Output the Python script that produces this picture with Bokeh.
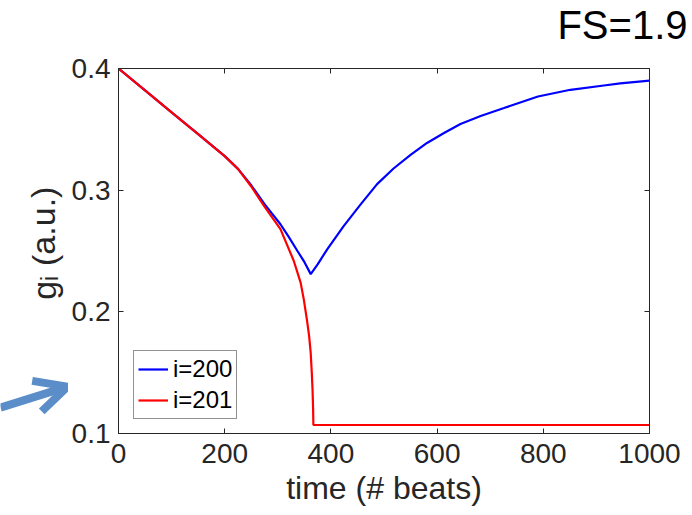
from bokeh.plotting import figure
from bokeh.layouts import row
from bokeh.models import (LinearAxis, Range1d, Arrow, OpenHead, Legend,
                          LegendItem, FixedTicker, CustomJSTickFormatter)
from bokeh.core.properties import value
from bokeh.embed import file_html
from bokeh.resources import INLINE

# ---- data ----
beats_200 = [0, 50, 100, 150, 200, 225, 250, 275, 305, 320, 337, 350, 362, 375,
             393, 424, 456, 487, 518, 550, 581, 613, 644, 682, 726, 790, 851,
             914, 945, 1000]
g_200 = [0.400, 0.382, 0.364, 0.346, 0.328, 0.3175, 0.304, 0.2885, 0.272, 0.262,
         0.250, 0.241, 0.231, 0.239, 0.2514, 0.2705, 0.2883, 0.305, 0.3178,
         0.329, 0.3388, 0.347, 0.3544, 0.361, 0.3675, 0.377, 0.3825, 0.386,
         0.3877, 0.390]

beats_201 = [0, 50, 100, 150, 200, 225, 250, 275, 305, 330, 343, 349, 355, 359,
             362, 364, 365.5, 366.5, 367, 1000]
g_201 = [0.400, 0.382, 0.364, 0.346, 0.328, 0.3175, 0.303, 0.2865, 0.268, 0.242,
         0.224, 0.210, 0.193, 0.180, 0.166, 0.150, 0.135, 0.120, 0.107, 0.107]

x_ticks = [0, 200, 400, 600, 800, 1000]
y_ticks = [0.1, 0.2, 0.3, 0.4]
series_labels = ["i=200", "i=201"]
title_text = "FS=1.9"
x_label = "time (# beats)"
y_label_parts = ["g", "i", "(a.u.)"]

AX = "#262626"
FONT = "Liberation Sans"
H = 515

# ---------- left strip: y-axis label and the pointing arrow ----------
# its frame is aligned by the row with the main frame (page y 67..433),
# so data y = H - page y
left = figure(width=68, height=H, output_backend="svg", toolbar_location=None,
              x_range=Range1d(0, 68), y_range=Range1d(H - 433, H - 67),
              min_border=0, x_axis_location=None, y_axis_location=None)
left.grid.visible = False
left.outline_line_color = None
txt_kw = dict(angle=1.5708, text_font=value(FONT), text_color=AX,
              text_align="left", text_baseline="alphabetic")
left.text(x=[43], y=[H - 299], text=[y_label_parts[0]],
          text_font_size=value("34px"), **txt_kw)
left.text(x=[49], y=[H - 280], text=[y_label_parts[1]],
          text_font_size=value("23px"), **txt_kw)
left.text(x=[43], y=[H - 265], text=[y_label_parts[2]],
          text_font_size=value("34px"), **txt_kw)
left.add_layout(Arrow(x_start=0, y_start=H - 407, x_end=67, y_end=H - 386,
                      line_color="#5b8ec8", line_width=8,
                      end=OpenHead(size=32, line_color="#5b8ec8", line_width=8)))

# ---------- main chart ----------
p = figure(width=624, height=H, output_backend="svg", toolbar_location=None,
           x_range=Range1d(0, 1000), y_range=Range1d(0.1, 0.4),
           min_border_left=50, min_border_right=43, min_border_top=67,
           min_border_bottom=82, x_axis_location=None, y_axis_location=None)
p.grid.visible = False
p.outline_line_color = AX
p.outline_line_width = 1

p.title.text = title_text
p.title.align = "right"
p.title.vertical_align = "top"
p.title.offset = -38
p.title.text_font = FONT
p.title.text_font_size = "40px"
p.title.text_font_style = "normal"
p.title.text_color = "black"
p.title.standoff = 4

def style_axis(ax, labels=True):
    ax.axis_line_color = AX
    ax.major_tick_line_color = AX
    ax.major_tick_in = 5
    ax.major_tick_out = 0
    ax.minor_tick_line_color = None
    ax.major_label_text_font = FONT
    ax.major_label_text_color = AX
    ax.major_label_text_font_size = "28px"
    ax.axis_label_text_font = FONT
    ax.axis_label_text_color = AX
    ax.axis_label_text_font_style = "normal"
    if not labels:
        ax.formatter = CustomJSTickFormatter(code="return ''")
        ax.major_label_standoff = 0

xb = LinearAxis(ticker=FixedTicker(ticks=x_ticks), axis_label=x_label)
style_axis(xb)
xb.major_label_standoff = 10
xb.axis_label_text_font_size = "32px"
xb.axis_label_standoff = 4
p.add_layout(xb, "below")

yl = LinearAxis(ticker=FixedTicker(ticks=y_ticks))
style_axis(yl)
yl.major_label_standoff = 8
p.add_layout(yl, "left")

xt = LinearAxis(ticker=FixedTicker(ticks=x_ticks))
style_axis(xt, labels=False)
p.add_layout(xt, "above")

# invisible spacer axis that lifts the title away from the frame
xs = LinearAxis(ticker=FixedTicker(ticks=x_ticks))
style_axis(xs, labels=False)
xs.axis_line_color = None
xs.major_tick_line_color = None
xs.major_tick_in = 0
xs.major_tick_out = 18
p.add_layout(xs, "above")

yr = LinearAxis(ticker=FixedTicker(ticks=y_ticks))
style_axis(yr, labels=False)
p.add_layout(yr, "right")

r1 = p.line(beats_200, g_200, line_color="#0000ff", line_width=2.2)
r2 = p.line(beats_201, g_201, line_color="#ff0000", line_width=2.2)

legend = Legend(items=[LegendItem(label=series_labels[0], renderers=[r1]),
                       LegendItem(label=series_labels[1], renderers=[r2])],
                location=(15, 14), margin=0, padding=4, spacing=3,
                glyph_width=30, glyph_height=28, label_height=28,
                label_standoff=5, label_text_font=FONT,
                label_text_font_size="24px", label_text_color="black",
                border_line_color=AX, border_line_width=1,
                background_fill_color="white", background_fill_alpha=1)
p.add_layout(legend, "center")

open("out.html", "w").write(file_html(row(left, p), INLINE))
